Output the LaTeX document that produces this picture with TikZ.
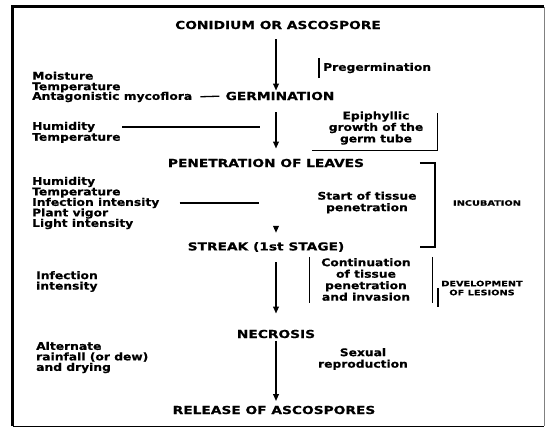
\documentclass[tikz,border=0pt]{standalone}
\usepackage{fontspec}
\setmainfont{DejaVu Sans}
\newfontfamily\capsf{DejaVu Sans}[FakeStretch=1.25, FakeBold=0.6]
\newfontfamily\bodyf{DejaVu Sans}[FakeStretch=1.17, FakeBold=0.5]
\newfontfamily\smallf{DejaVu Sans}[FakeStretch=1.3, FakeBold=0.5]
\usetikzlibrary{arrows.meta}
\begin{document}
\begin{tikzpicture}[x=1pt,y=-1pt,
  big/.style={font=\capsf\bfseries\fontsize{11}{12}\selectfont, inner sep=0pt},
  body/.style={font=\bodyf\bfseries\fontsize{10.5}{10.5}\selectfont, inner sep=0pt, align=left, anchor=west},
  cbody/.style={font=\bodyf\bfseries\fontsize{10.5}{11.5}\selectfont, inner sep=0pt, align=center},
  tiny/.style={font=\smallf\bfseries\fontsize{7.5}{9}\selectfont, inner sep=0pt, align=center},
  flow/.style={line width=1.9pt, -{Triangle[length=7pt,width=5.5pt]}},
  rule/.style={line width=1.3pt},
  brk/.style={line width=1.7pt},
  box/.style={inner sep=0pt, draw=none}
]
\useasboundingbox (0,0) rectangle (545,428);
% frame
\node[box, minimum width=531pt, minimum height=419pt] (frame) at (278.5,216.5) {};
\draw[line width=2.8pt] (frame.south west) -- (frame.north west) -- (frame.north east);
\draw[line width=1.2pt] (frame.south west) -- (frame.south east);
\draw[line width=0.6pt, gray] (frame.north east) -- (frame.south east);
\coordinate (ax) at (276,0);
% main column
\node[big] (conid) at (278,25) {CONIDIUM OR ASCOSPORE};
\node[big] (germ) at (280,96) {GERMINATION};
\node[big] (pen) at (266,163) {PENETRATION OF LEAVES};
\node[big] (streak) at (266,247) {STREAK (1st STAGE)};
\node[big] (necro) at (276,334) {NECROSIS};
\node[big] (rel) at (274,410) {RELEASE OF ASCOSPORES};
\draw[flow, shorten <=10pt, shorten >=1pt] (conid.south -| ax) -- (germ.north -| ax);
\draw[flow, shorten <=12pt, shorten >=10pt] (germ.south -| ax) -- (pen.north -| ax);
\coordinate (sA) at (276,226);
\draw[flow, shorten >=9pt] (sA) -- (streak.north -| ax);
\draw[flow, shorten <=10pt, shorten >=16pt] (streak.south -| ax) -- (necro.north -| ax);
\draw[flow, shorten <=2.5pt, shorten >=4.5pt] (necro.south -| ax) -- (rel.north -| ax);
% left factors
\node[body] (moist) at (32,82) {Moisture\\Temperature};
\node[body] (anta) at (32,97) {Antagonistic mycoflora};
\draw[rule, shorten <=8pt, shorten >=6pt] (anta.east) -- (germ.west);
\node[body] (hum) at (32,127) {Humidity};
\node[body] (temp2) at (32,138) {Temperature};
\coordinate (humEnd) at (260,127);
\draw[rule, shorten <=27pt] (hum.east) -- (humEnd);
\node[body] (lst) at (32,203) {Humidity\\Temperature\\Infection intensity\\Plant vigor\\Light intensity};
\coordinate (infEnd) at (259,204);
\draw[rule] ([xshift=20pt]lst.east) -- (lst.east -| infEnd);
\node[body] (inf) at (36,281.5) {Infection\\intensity};
\node[body] (alt) at (36,357.5) {Alternate\\rainfall (or dew)\\and drying};
% right processes
\node[body] (preg) at (323,68) {Pregermination};
\draw[rule] ([xshift=-4pt,yshift=-10pt]preg.west) -- ([xshift=-4pt,yshift=10pt]preg.west);
\node[cbody] (epi) at (376,128) {Epiphyllic\\growth of the\\germ tube};
\node[box, minimum width=125pt, minimum height=37pt] (epiB) at (374.5,131.5) {};
\draw[rule] (epiB.south west) -- (epiB.south east) -- (epiB.north east);
\node[cbody] (start) at (367,202.5) {Start of tissue\\penetration};
\node[box, minimum width=15pt, minimum height=84pt] (incB) at (427.5,205) {};
\draw[brk] (incB.north west) -- (incB.north east) -- (incB.south east) -- (incB.south west);
\node[tiny] (inc) at (487,203) {INCUBATION};
\node[cbody] (cont) at (366,279.5) {Continuation\\of tissue\\penetration\\and invasion};
\node[box, minimum width=122pt, minimum height=46pt] (contB) at (371,280) {};
\draw[rule] (contB.north west) -- (contB.south west);
\draw[rule] (contB.north east) -- (contB.south east);
\coordinate (d1) at (438,288);
\coordinate (d2) at (438,307);
\draw[rule] (d1) -- (d2);
\node[tiny] (dev) at (482,288) {DEVELOPMENT\\OF LESIONS};
\node[cbody] (sex) at (363,359) {Sexual\\reproduction};
\end{tikzpicture}
\end{document}
